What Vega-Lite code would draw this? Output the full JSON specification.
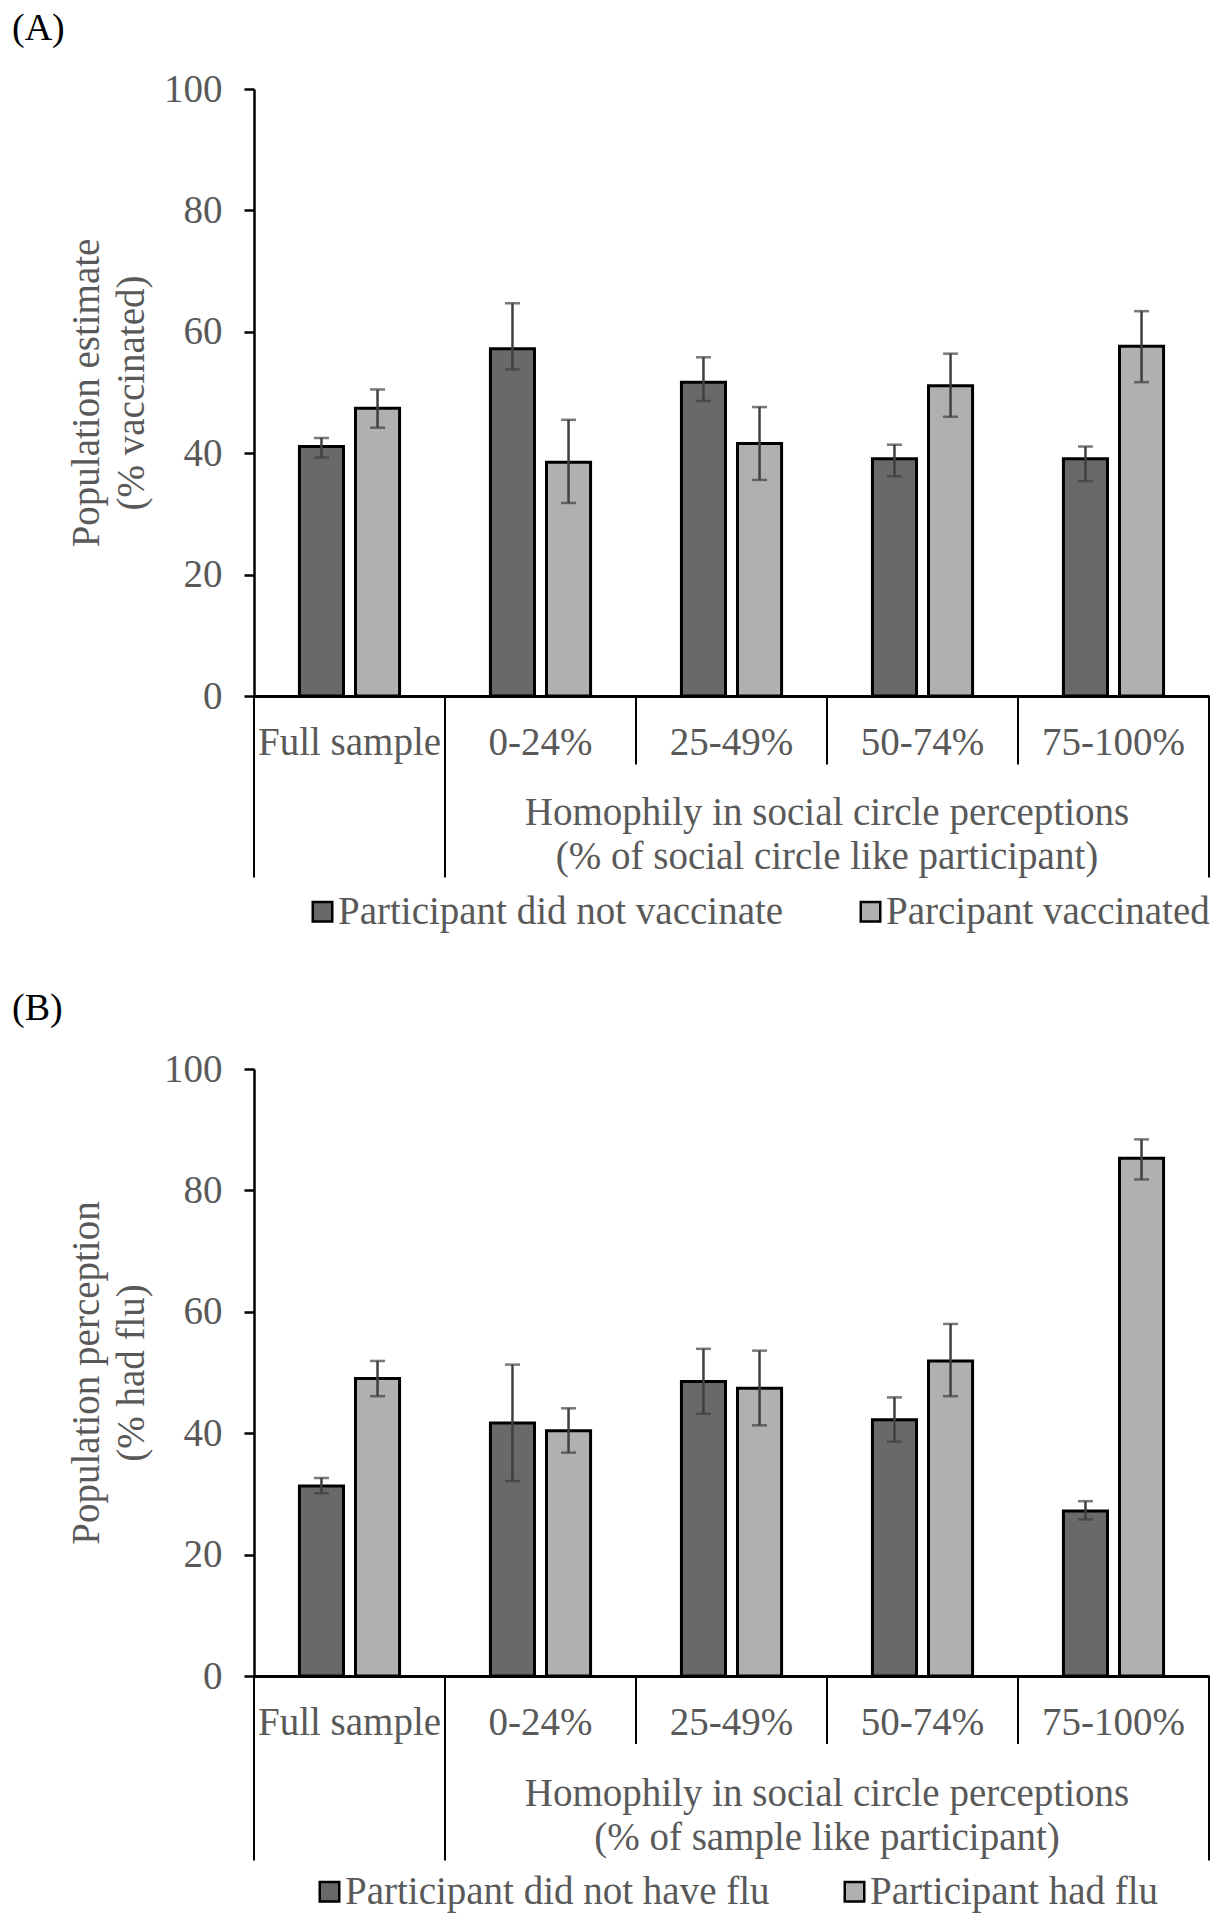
{
  "$schema": "https://vega.github.io/schema/vega-lite/v6.json",
  "padding": {"left": 12, "top": 10, "right": 5, "bottom": 5},
  "background": "white",
  "config": {
    "view": {"stroke": null},
    "font": "Liberation Serif",
    "axis": {
      "grid": false,
      "labelFont": "Liberation Serif",
      "labelFontSize": 39,
      "labelColor": "#595959",
      "titleFont": "Liberation Serif",
      "titleFontSize": 39,
      "titleColor": "#595959",
      "titleFontWeight": "normal",
      "domainColor": "black",
      "tickColor": "black"
    },
    "axisX": {"domainWidth": 3, "ticks": false, "labelAngle": 0, "labelBaseline": "middle", "labelPadding": 46, "labelLimit": 0},
    "axisY": {"domainWidth": 2.5, "tickWidth": 2.5, "tickSize": 10, "labelPadding": 22, "titlePadding": 12, "titleLineHeight": 45},
    "legend": {
      "labelFont": "Liberation Serif",
      "labelFontSize": 39,
      "labelColor": "#595959",
      "symbolType": "square",
      "symbolSize": 380,
      "symbolStrokeColor": "black",
      "symbolStrokeWidth": 2.5,
      "labelOffset": -4,
      "labelLimit": 0,
      "padding": 0
    },
    "title": {"font": "Liberation Serif", "fontSize": 38, "fontWeight": "normal", "color": "black", "anchor": "start", "frame": "group"}
  },
  "datasets": {
    "panelA": [
      {"cat": "Full sample", "grp": "Participant did not vaccinate", "value": 41.1, "lo": 39.3, "hi": 42.5},
      {"cat": "Full sample", "grp": "Parcipant vaccinated", "value": 47.4, "lo": 44.2, "hi": 50.5},
      {"cat": "0-24%", "grp": "Participant did not vaccinate", "value": 57.2, "lo": 53.8, "hi": 64.7},
      {"cat": "0-24%", "grp": "Parcipant vaccinated", "value": 38.5, "lo": 31.8, "hi": 45.5},
      {"cat": "25-49%", "grp": "Participant did not vaccinate", "value": 51.7, "lo": 48.6, "hi": 55.8},
      {"cat": "25-49%", "grp": "Parcipant vaccinated", "value": 41.6, "lo": 35.6, "hi": 47.6},
      {"cat": "50-74%", "grp": "Participant did not vaccinate", "value": 39.1, "lo": 36.2, "hi": 41.4},
      {"cat": "50-74%", "grp": "Parcipant vaccinated", "value": 51.1, "lo": 46.0, "hi": 56.4},
      {"cat": "75-100%", "grp": "Participant did not vaccinate", "value": 39.1, "lo": 35.4, "hi": 41.1},
      {"cat": "75-100%", "grp": "Parcipant vaccinated", "value": 57.6, "lo": 51.7, "hi": 63.4}
    ],
    "panelB": [
      {"cat": "Full sample", "grp": "Participant did not have flu", "value": 31.3, "lo": 30.1, "hi": 32.6},
      {"cat": "Full sample", "grp": "Participant had flu", "value": 49.0, "lo": 46.1, "hi": 51.9},
      {"cat": "0-24%", "grp": "Participant did not have flu", "value": 41.7, "lo": 32.1, "hi": 51.3},
      {"cat": "0-24%", "grp": "Participant had flu", "value": 40.4, "lo": 36.8, "hi": 44.1},
      {"cat": "25-49%", "grp": "Participant did not have flu", "value": 48.5, "lo": 43.2, "hi": 53.9},
      {"cat": "25-49%", "grp": "Participant had flu", "value": 47.4, "lo": 41.3, "hi": 53.6},
      {"cat": "50-74%", "grp": "Participant did not have flu", "value": 42.2, "lo": 38.6, "hi": 45.9},
      {"cat": "50-74%", "grp": "Participant had flu", "value": 51.9, "lo": 46.1, "hi": 58.0},
      {"cat": "75-100%", "grp": "Participant did not have flu", "value": 27.2, "lo": 25.8, "hi": 28.8},
      {"cat": "75-100%", "grp": "Participant had flu", "value": 85.3, "lo": 81.8, "hi": 88.4}
    ]
  },
  "resolve": {"scale": {"color": "independent", "x": "independent", "y": "independent", "xOffset": "independent"}, "legend": {"color": "independent"}},
  "spacing": 58,
  "vconcat": [
    {
      "title": {"text": "(A)", "dx": -242, "offset": 22},
      "width": 955,
      "height": 607,
      "data": {"name": "panelA"},
      "layer": [
        {
          "mark": {"type": "bar", "stroke": "black", "strokeWidth": 3},
          "encoding": {
            "x": {"field": "cat", "type": "nominal", "scale": {"domain": ["Full sample", "0-24%", "25-49%", "50-74%", "75-100%"], "paddingInner": 0, "paddingOuter": 0}, "axis": {"title": null}},
            "xOffset": {"field": "grp", "type": "nominal", "scale": {"domain": ["Participant did not vaccinate", "Parcipant vaccinated"], "paddingInner": 0.214, "paddingOuter": 0.81}},
            "y": {"field": "value", "type": "quantitative", "scale": {"domain": [0, 100], "nice": false}, "axis": {"values": [0, 20, 40, 60, 80, 100], "title": ["Population estimate", "(% vaccinated)"]}},
            "color": {"field": "grp", "type": "nominal", "scale": {"domain": ["Participant did not vaccinate", "Parcipant vaccinated"], "range": ["#696969", "#b0b0b0"]}, "legend": {"title": null, "orient": "none", "direction": "horizontal", "legendX": 49, "legendY": 803, "columnPadding": 67}}
          }
        },
        {
          "mark": {"type": "rule", "color": "#404040", "strokeWidth": 2.5},
          "encoding": {
            "x": {"field": "cat", "type": "nominal"},
            "xOffset": {"field": "grp", "type": "nominal"},
            "y": {"field": "lo", "type": "quantitative"},
            "y2": {"field": "hi"}
          }
        },
        {
          "mark": {"type": "tick", "color": "#404040", "thickness": 2.5, "size": 15},
          "encoding": {
            "x": {"field": "cat", "type": "nominal"},
            "xOffset": {"field": "grp", "type": "nominal"},
            "y": {"field": "lo", "type": "quantitative"}
          }
        },
        {
          "mark": {"type": "tick", "color": "#404040", "thickness": 2.5, "size": 15},
          "encoding": {
            "x": {"field": "cat", "type": "nominal"},
            "xOffset": {"field": "grp", "type": "nominal"},
            "y": {"field": "hi", "type": "quantitative"}
          }
        },
        {
          "data": {"values": [{"cat": "Full sample"}, {"cat": "0-24%"}]},
          "mark": {"type": "rule", "color": "black", "strokeWidth": 2},
          "encoding": {
            "x": {"field": "cat", "type": "nominal", "bandPosition": 0},
            "y": {"datum": 0, "type": "quantitative"},
            "y2": {"datum": -29.9}
          }
        },
        {
          "data": {"values": [{"cat": "75-100%"}]},
          "mark": {"type": "rule", "color": "black", "strokeWidth": 2},
          "encoding": {
            "x": {"field": "cat", "type": "nominal", "bandPosition": 1},
            "y": {"datum": 0, "type": "quantitative"},
            "y2": {"datum": -29.9}
          }
        },
        {
          "data": {"values": [{"cat": "25-49%"}, {"cat": "50-74%"}, {"cat": "75-100%"}]},
          "mark": {"type": "rule", "color": "black", "strokeWidth": 2},
          "encoding": {
            "x": {"field": "cat", "type": "nominal", "bandPosition": 0},
            "y": {"datum": 0, "type": "quantitative"},
            "y2": {"datum": -11.3}
          }
        },
        {
          "data": {"values": [{"cat": "50-74%", "t": "Homophily in social circle perceptions\n(% of social circle like participant)"}]},
          "mark": {"type": "text", "lineBreak": "\n", "lineHeight": 44, "fontSize": 39, "font": "Liberation Serif", "color": "#595959", "baseline": "middle", "align": "center"},
          "encoding": {
            "x": {"field": "cat", "type": "nominal", "bandPosition": 0},
            "y": {"datum": -19.3, "type": "quantitative"},
            "text": {"field": "t"}
          }
        }
      ]
    },
    {
      "title": {"text": "(B)", "dx": -242, "offset": 22},
      "width": 955,
      "height": 607,
      "data": {"name": "panelB"},
      "layer": [
        {
          "mark": {"type": "bar", "stroke": "black", "strokeWidth": 3},
          "encoding": {
            "x": {"field": "cat", "type": "nominal", "scale": {"domain": ["Full sample", "0-24%", "25-49%", "50-74%", "75-100%"], "paddingInner": 0, "paddingOuter": 0}, "axis": {"title": null}},
            "xOffset": {"field": "grp", "type": "nominal", "scale": {"domain": ["Participant did not have flu", "Participant had flu"], "paddingInner": 0.214, "paddingOuter": 0.81}},
            "y": {"field": "value", "type": "quantitative", "scale": {"domain": [0, 100], "nice": false}, "axis": {"values": [0, 20, 40, 60, 80, 100], "title": ["Population perception", "(% had flu)"]}},
            "color": {"field": "grp", "type": "nominal", "scale": {"domain": ["Participant did not have flu", "Participant had flu"], "range": ["#696969", "#b0b0b0"]}, "legend": {"title": null, "orient": "none", "direction": "horizontal", "legendX": 56, "legendY": 803, "columnPadding": 65}}
          }
        },
        {
          "mark": {"type": "rule", "color": "#404040", "strokeWidth": 2.5},
          "encoding": {
            "x": {"field": "cat", "type": "nominal"},
            "xOffset": {"field": "grp", "type": "nominal"},
            "y": {"field": "lo", "type": "quantitative"},
            "y2": {"field": "hi"}
          }
        },
        {
          "mark": {"type": "tick", "color": "#404040", "thickness": 2.5, "size": 15},
          "encoding": {
            "x": {"field": "cat", "type": "nominal"},
            "xOffset": {"field": "grp", "type": "nominal"},
            "y": {"field": "lo", "type": "quantitative"}
          }
        },
        {
          "mark": {"type": "tick", "color": "#404040", "thickness": 2.5, "size": 15},
          "encoding": {
            "x": {"field": "cat", "type": "nominal"},
            "xOffset": {"field": "grp", "type": "nominal"},
            "y": {"field": "hi", "type": "quantitative"}
          }
        },
        {
          "data": {"values": [{"cat": "Full sample"}, {"cat": "0-24%"}]},
          "mark": {"type": "rule", "color": "black", "strokeWidth": 2},
          "encoding": {
            "x": {"field": "cat", "type": "nominal", "bandPosition": 0},
            "y": {"datum": 0, "type": "quantitative"},
            "y2": {"datum": -30.4}
          }
        },
        {
          "data": {"values": [{"cat": "75-100%"}]},
          "mark": {"type": "rule", "color": "black", "strokeWidth": 2},
          "encoding": {
            "x": {"field": "cat", "type": "nominal", "bandPosition": 1},
            "y": {"datum": 0, "type": "quantitative"},
            "y2": {"datum": -30.4}
          }
        },
        {
          "data": {"values": [{"cat": "25-49%"}, {"cat": "50-74%"}, {"cat": "75-100%"}]},
          "mark": {"type": "rule", "color": "black", "strokeWidth": 2},
          "encoding": {
            "x": {"field": "cat", "type": "nominal", "bandPosition": 0},
            "y": {"datum": 0, "type": "quantitative"},
            "y2": {"datum": -11.2}
          }
        },
        {
          "data": {"values": [{"cat": "50-74%", "t": "Homophily in social circle perceptions\n(% of sample like participant)"}]},
          "mark": {"type": "text", "lineBreak": "\n", "lineHeight": 44, "fontSize": 39, "font": "Liberation Serif", "color": "#595959", "baseline": "middle", "align": "center"},
          "encoding": {
            "x": {"field": "cat", "type": "nominal", "bandPosition": 0},
            "y": {"datum": -19.5, "type": "quantitative"},
            "text": {"field": "t"}
          }
        }
      ]
    }
  ]
}
